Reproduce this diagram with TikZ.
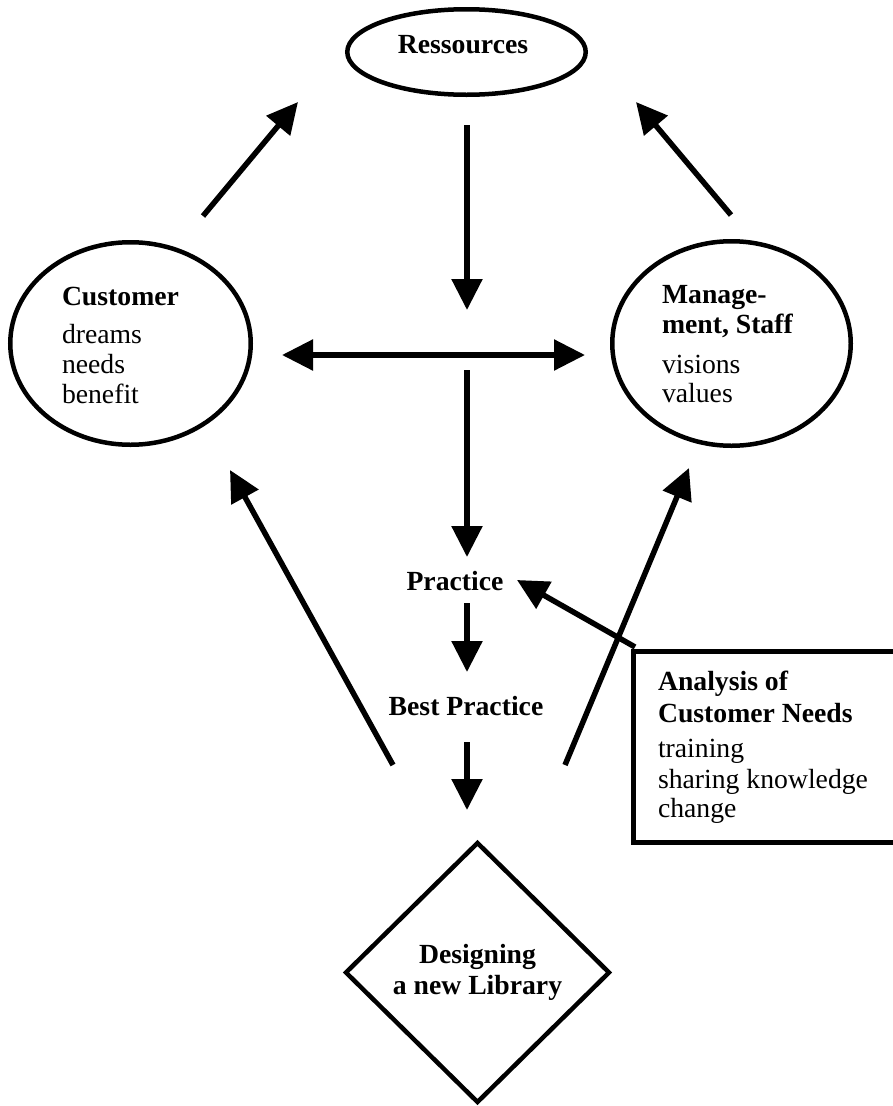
\documentclass[tikz,border=0pt]{standalone}
\usepackage{fontspec}
\setmainfont{Liberation Serif}
\usetikzlibrary{arrows.meta,shapes.geometric}
\begin{document}
\begin{tikzpicture}[x=1pt,y=-1pt,
  every node/.style={inner sep=0pt,outer sep=0pt},
  arr/.style={line width=5.5pt,-{Triangle[width=30pt,length=31pt]}},
  darr/.style={line width=5.5pt,{Triangle[width=30pt,length=31pt]}-{Triangle[width=30pt,length=31pt]}},
  oval/.style={draw,ellipse,line width=4.5pt},
  bt/.style={font=\fontsize{27.7}{31}\selectfont\bfseries,anchor=base west},
  rt/.style={font=\fontsize{27.7}{31}\selectfont,anchor=base west}]
\useasboundingbox (0,0) rectangle (893,1106);

% shapes
\node[oval,minimum width=238.5pt,minimum height=85.5pt] (resE) at (466.5,52) {};
\node[oval,minimum width=240.5pt,minimum height=202.5pt] (custE) at (130.5,343.5) {};
\node[oval,minimum width=238.5pt,minimum height=204.5pt] (mgmtE) at (731.5,343.5) {};
\node[draw,line width=5pt,anchor=north west,minimum width=280pt,minimum height=191pt] (anaB) at (633,651) {};
\node[draw,diamond,line width=4.5pt,minimum width=263pt,minimum height=259pt,
      align=center,font=\fontsize{27.7}{31}\selectfont\bfseries] (libD) at (477.5,972.5) {Designing\\a new Library};

% texts
\node[bt,anchor=base] (resT) at (463,53) {Ressources};
\node[bt] (custT) at (62,305) {Customer};
\node[rt] (custA) at (62,343) {dreams};
\node[rt] (custB) at (62,373) {needs};
\node[rt] (custC) at (62,403) {benefit};
\node[bt] (mgmtT) at (662,303) {Manage-};
\node[bt] (mgmtU) at (662,333) {ment, Staff};
\node[rt] (mgmtA) at (662,373) {visions};
\node[rt] (mgmtB) at (662,402) {values};
\node[bt,anchor=base] (prac) at (455,590) {Practice};
\node[bt,anchor=base] (best) at (466,715) {Best Practice};
\node[bt] (anaT) at (658,690) {Analysis of};
\node[bt] (anaU) at (658,722) {Customer Needs};
\node[rt] (anaA) at (658,757) {training};
\node[rt] (anaC) at (658,788) {sharing knowledge};
\node[rt] (anaD) at (658,817) {change};

% arrow end points
\coordinate (r1) at (467,125);  \coordinate (r2) at (467,310);
\coordinate (h1) at (282,355);  \coordinate (h2) at (585,355);
\coordinate (p1) at (467,370);  \coordinate (p2) at (467,557);
\coordinate (cu1) at (203,216); \coordinate (cu2) at (298,102);
\coordinate (mu1) at (731,215); \coordinate (mu2) at (636,102);
\coordinate (ld1) at (393,765); \coordinate (ld2) at (230,470);
\coordinate (rd1) at (565,765); \coordinate (rd2) at (689,468);
\coordinate (pb1) at (467,603); \coordinate (pb2) at (467,672);
\coordinate (bd1) at (467,742); \coordinate (bd2) at (467,810);
\coordinate (ap2) at (517,580);

\draw[arr] (r1) -- (r2);
\draw[darr] (h1) -- (h2);
\draw[arr] (p1) -- (p2);
\draw[arr] (cu1) -- (cu2);
\draw[arr] (mu1) -- (mu2);
\draw[arr] (ld1) -- (ld2);
\draw[arr] (rd1) -- (rd2);
\draw[arr] (pb1) -- (pb2);
\draw[arr] (bd1) -- (bd2);
\draw[arr] ([shift={(2,-4)}]anaB.north west) -- (ap2);
\end{tikzpicture}
\end{document}
